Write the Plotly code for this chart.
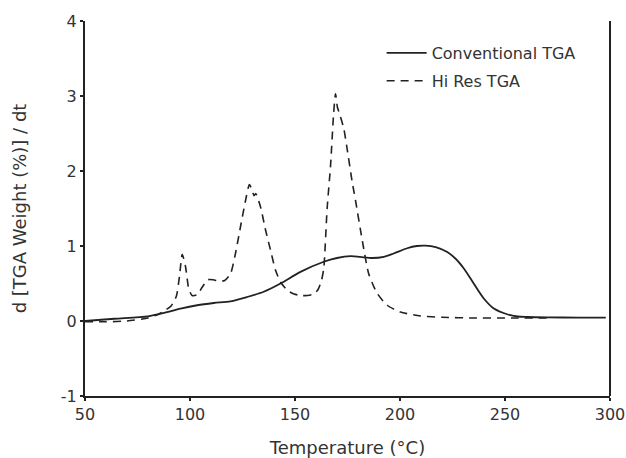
import plotly.graph_objects as go

# Conventional TGA (solid)
conv_T = [50, 64, 80, 87.5, 95.5, 103.4, 111.3, 119.3, 127.2, 135.1, 143.1, 152.6, 163.7,
          170, 176.4, 181, 186.8, 192.3, 197, 203.4, 208, 212.1, 217, 222.5, 226.5, 230.4,
          235.1, 239.9, 244.7, 251, 256, 260.6, 270, 285, 298]
conv_V = [0, 0.03, 0.063, 0.107, 0.165, 0.21, 0.24, 0.263, 0.32, 0.39, 0.5, 0.655, 0.79,
          0.84, 0.865, 0.855, 0.84, 0.856, 0.9, 0.97, 1.0, 1.005, 0.985, 0.92, 0.83, 0.7,
          0.5, 0.3, 0.166, 0.09, 0.06, 0.053, 0.048, 0.046, 0.045]

# Hi Res TGA (dashed)
hires_T = [50, 60, 70, 80, 85, 88, 91, 93.5, 95, 96.3, 97.9, 99.4, 101, 103.4, 105.8, 108.5,
           111, 114, 116.5, 119.3, 121.5, 124, 126.4, 128.3, 129.5, 130.5, 131.3, 133.6, 136,
           138.3, 140.7, 143.1, 146.3, 149.5, 153, 156, 159, 161, 162.6, 163.7, 165.3, 166.9,
           168.4, 169.3, 170.2, 170.9, 173.2, 174.8, 177.2, 178.8, 182, 185.1, 189.1, 193.9,
           200.2, 209.8, 220, 235, 250, 272]
hires_V = [-0.01, -0.01, 0.0, 0.04, 0.09, 0.14, 0.2, 0.33, 0.6, 0.89, 0.72, 0.43, 0.34, 0.35,
           0.45, 0.55, 0.55, 0.53, 0.54, 0.63, 0.88, 1.25, 1.6, 1.82, 1.75, 1.67, 1.7, 1.52,
           1.21, 0.95, 0.68, 0.52, 0.41, 0.36, 0.34, 0.34, 0.36, 0.42, 0.54, 0.7, 1.5, 2.06,
           2.77, 3.03, 2.85, 2.79, 2.57, 2.3, 1.86, 1.61, 1.08, 0.63, 0.37, 0.21, 0.12, 0.067,
           0.05, 0.04, 0.04, 0.04]

x_ticks = [50, 100, 150, 200, 250, 300]
y_ticks = [-1, 0, 1, 2, 3, 4]

ink = "#222222"
font_family = "DejaVu Sans"

fig = go.Figure()
fig.add_trace(go.Scatter(x=conv_T, y=conv_V, mode="lines", name="Conventional TGA",
                         legendgroup="a",
                         line=dict(color=ink, width=1.8, shape="spline", smoothing=0.8)))
fig.add_trace(go.Scatter(x=hires_T, y=hires_V, mode="lines", name="Hi Res TGA",
                         legendgroup="b",
                         line=dict(color=ink, width=1.6, dash="8px,6px", shape="spline",
                                   smoothing=0.6)))

fig.update_layout(
    width=626, height=458,
    margin=dict(l=85, r=16, t=21, b=62),
    paper_bgcolor="white", plot_bgcolor="white",
    font=dict(family=font_family, size=16, color="#333333"),
    showlegend=True,
    legend=dict(x=0.565, y=0.96, xanchor="left", yanchor="top",
                bgcolor="rgba(0,0,0,0)", tracegroupgap=4,
                font=dict(size=16), itemwidth=40),
    xaxis=dict(range=[50, 300], tickvals=x_ticks, ticktext=[str(v) for v in x_ticks],
               showgrid=False, zeroline=False, showline=True, linecolor=ink, linewidth=2,
               ticks="outside", ticklen=3, tickcolor=ink, tickwidth=1.5, automargin=False,
               title=dict(text="Temperature (°C)", standoff=20,
                          font=dict(size=18)),
               tickfont=dict(size=16)),
    yaxis=dict(range=[-1, 4], tickvals=y_ticks, ticktext=[str(v) for v in y_ticks],
               showgrid=False, zeroline=False, showline=True, linecolor=ink, linewidth=2,
               ticks="outside", ticklen=3, tickcolor=ink, tickwidth=1.5, automargin=False,
               title=dict(text="d [TGA Weight (%)] / dt", standoff=30,
                          font=dict(size=18)),
               tickfont=dict(size=16)),
    shapes=[dict(type="line", xref="paper", yref="paper", x0=1, x1=1, y0=0, y1=1,
                 line=dict(color=ink, width=2))],
)

fig.write_html("out.html")
